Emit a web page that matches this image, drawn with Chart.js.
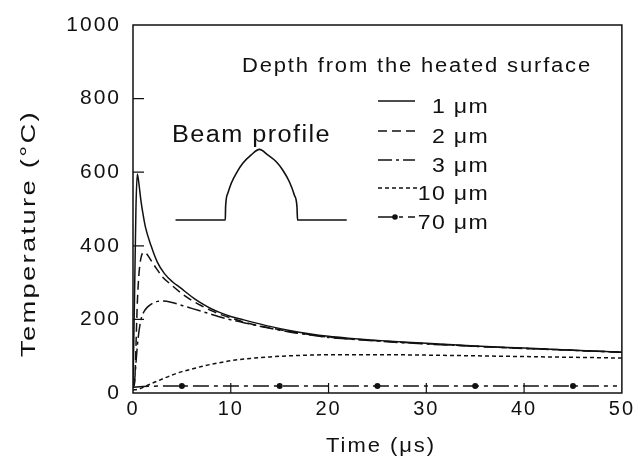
<!DOCTYPE html>
<html><head><meta charset="utf-8">
<script src="https://cdn.jsdelivr.net/npm/chart.js@4"></script>
<style>html,body{margin:0;padding:0;background:#fff}</style>
</head><body>
<canvas id="c" width="637" height="461" style="width:637px;height:461px;display:block"></canvas>
<script>
// ---- data (time in µs, temperature in °C) ----
const depthLabels = ['1 μm', '2 μm', '3 μm', '10 μm', '70 μm'];

const time1 = [0, 0.15, 0.3, 0.44, 0.6, 0.8, 1.0, 1.26, 1.85, 2.5, 3.2, 4, 5, 5.45, 6.3, 7.2, 8, 8.85, 10, 11, 12, 14, 16, 18, 20, 22, 25, 28, 30, 35, 40, 45, 50];
const temp1 = [20, 250, 500, 595, 570, 525, 490, 452, 400, 355, 325, 303, 283, 273, 256, 241, 229, 219, 208, 201, 194, 181, 170, 161, 154, 149, 143, 138, 135, 128, 122, 116, 111];

const time2 = [0, 0.15, 0.25, 0.35, 0.45, 0.6, 0.8, 1.07, 1.4, 1.8, 2.4, 3, 4, 5, 6, 7, 8, 9, 10, 12, 14, 16, 18, 20, 25, 30, 35, 40, 45, 50];
const temp2 = [15, 25, 80, 170, 250, 320, 365, 382, 378, 362, 338, 316, 292, 270, 252, 237, 224, 213, 204, 188, 177, 167, 159, 152, 142, 134, 127, 121, 116, 111];

const time3 = [0, 0.15, 0.3, 0.45, 0.6, 0.8, 1.1, 1.5, 2, 2.5, 3.1, 4, 5, 6, 7, 8, 9, 10, 12, 14, 16, 18, 20, 22, 25, 30, 35, 40, 45, 50];
const temp3 = [15, 30, 80, 130, 165, 198, 220, 234, 244, 249, 250, 246, 238, 230, 222, 214, 206, 199, 187, 176, 166, 158, 151, 147, 141, 133, 127, 121, 116, 111];

const time10 = [0, 0.5, 1, 2, 3, 4, 5, 6, 7, 8, 9, 10, 12, 14, 16, 18, 20, 25, 30, 35, 40, 45, 50];
const temp10 = [8, 10, 15, 27, 38, 49, 58, 65, 72, 78, 83, 88, 94, 98, 101, 103, 104, 104, 103, 101, 99, 97, 95];

const time70 = [0, 1, 5, 15, 25, 35, 45, 49.5];
const temp70 = [15, 18, 19, 19, 19, 19, 19, 19];
const markerTimes70 = [5, 15, 25, 35, 45];

// inset sketch of the beam profile (drawn in data coordinates)
const beamX = [4.35, 9.44, 9.47, 9.70, 10.05, 10.56, 11.23, 12.09, 12.93, 13.78, 14.63, 15.31, 15.99, 16.50, 16.77, 16.83, 21.86];
const beamY = [470, 470, 506, 543, 570, 597, 624, 647, 662, 647, 629, 606, 574, 538, 506, 470, 470];

const xTicksInner = [10, 20, 30, 40];
const yTicksInner = [200, 400, 600, 800];

const FONT = "'Liberation Sans', Arial, sans-serif";
const INK = '#111';

function pts(xs, ys) { return xs.map((x, i) => ({ x, y: ys[i] })); }

const dashes = [[], [9, 5], [14, 4, 3, 4], [4, 3], [16, 5, 4, 5]];
const series = [[time1, temp1], [time2, temp2], [time3, temp3], [time10, temp10], [time70, temp70]];

const datasets = series.map((s, i) => ({
  label: depthLabels[i],
  data: pts(s[0], s[1]),
  borderColor: INK,
  backgroundColor: INK,
  borderWidth: 1.5,
  borderDash: dashes[i],
  cubicInterpolationMode: 'monotone',
  fill: false,
  pointRadius: i === 4 ? (ctx => (ctx.raw && markerTimes70.includes(ctx.raw.x)) ? 3 : 0) : 0,
  pointBorderWidth: 0,
  pointBackgroundColor: INK
}));
datasets.push({
  label: 'Beam profile',
  data: pts(beamX, beamY),
  borderColor: INK,
  borderWidth: 1.6,
  cubicInterpolationMode: 'monotone',
  pointRadius: 0,
  fill: false
});

// draw text so that it spans `width` px, using a horizontal stretch plus letter spacing
function fitText(ctx, text, x, y, width, stretch) {
  ctx.save();
  ctx.letterSpacing = '0px';
  const w = ctx.measureText(text).width;
  const sp = Math.max(0, (width / stretch - w) / text.length);
  ctx.translate(x, y);
  ctx.scale(stretch, 1);
  ctx.letterSpacing = sp + 'px';
  ctx.textAlign = 'left';
  ctx.fillText(text, 0, 0);
  ctx.restore();
}

const annot = {
  id: 'annot',
  beforeDraw(chart) { chart.ctx.letterSpacing = '2px'; },        // y tick labels (z = 0)
  afterDatasetsDraw(chart) { chart.ctx.letterSpacing = '0.5px'; }, // x tick labels (z = 1)
  afterDraw(chart) {
    const ctx = chart.ctx;
    const a = chart.chartArea;
    const xs = chart.scales.x, ys = chart.scales.y;
    ctx.save();
    ctx.letterSpacing = '0px';
    ctx.strokeStyle = INK;
    ctx.fillStyle = INK;
    ctx.setLineDash([]);
    // frame
    ctx.lineWidth = 1.5;
    ctx.strokeRect(a.left, a.top, a.right - a.left, a.bottom - a.top);
    // inward ticks
    ctx.lineWidth = 1.2;
    ctx.beginPath();
    xTicksInner.forEach(v => { const p = xs.getPixelForValue(v); ctx.moveTo(p, a.bottom); ctx.lineTo(p, a.bottom - 10); });
    yTicksInner.forEach(v => { const p = ys.getPixelForValue(v); ctx.moveTo(a.left, p); ctx.lineTo(a.left + 11, p); });
    ctx.stroke();

    ctx.textBaseline = 'alphabetic';
    // x title
    ctx.font = '20px ' + FONT;
    fitText(ctx, 'Time (μs)', 326, 452, 110, 1.1);
    // y title
    ctx.save();
    ctx.translate(35, 357);
    ctx.rotate(-Math.PI / 2);
    ctx.font = '21px ' + FONT;
    fitText(ctx, 'Temperature (°C)', 0, 0, 247, 1.3);
    ctx.restore();

    // legend heading
    ctx.font = '20px ' + FONT;
    fitText(ctx, 'Depth from the heated surface', 242, 72, 350, 1.1);
    // beam profile label
    ctx.font = '23px ' + FONT;
    fitText(ctx, 'Beam profile', 172, 142, 159, 1.1);

    // legend entries
    const base = [113, 143, 172, 200, 229];
    ctx.font = '21px ' + FONT;
    for (let i = 0; i < 5; i++) {
      const ds = chart.data.datasets[i];
      const yl = base[i] - 12;
      ctx.setLineDash(ds.borderDash);
      ctx.lineWidth = 1.5;
      ctx.beginPath();
      ctx.moveTo(378, yl);
      ctx.lineTo(i === 3 ? 420 : 415, yl);
      ctx.stroke();
      ctx.setLineDash([]);
      if (i === 4) { ctx.beginPath(); ctx.arc(395, yl, 2.8, 0, Math.PI * 2); ctx.fill(); }
      ctx.letterSpacing = '1.2px';
      const w = ctx.measureText(depthLabels[i]).width * 1.1;
      ctx.save();
      ctx.translate(489 - w, base[i]);
      ctx.scale(1.1, 1);
      ctx.textAlign = 'left';
      ctx.fillText(depthLabels[i], 0, 0);
      ctx.restore();
      ctx.letterSpacing = '0px';
    }
    ctx.restore();
  }
};

new Chart(document.getElementById('c'), {
  type: 'line',
  data: { datasets },
  options: {
    responsive: false,
    animation: false,
    devicePixelRatio: 1,
    layout: { padding: { top: 25, right: 13, left: 0, bottom: 0 } },
    plugins: { legend: { display: false }, tooltip: { enabled: false } },
    scales: {
      x: {
        type: 'linear', min: 0, max: 50, z: 1,
        ticks: { stepSize: 10, padding: 4, color: INK, font: { family: FONT, size: 20 }, callback: v => String(v) },
        grid: { display: false, drawTicks: false },
        border: { display: false },
        afterFit: s => { s.height = 68; }
      },
      y: {
        type: 'linear', min: 0, max: 1000,
        ticks: { stepSize: 200, padding: 12, color: INK, font: { family: FONT, size: 21 }, callback: v => String(v) },
        grid: { display: false, drawTicks: false },
        border: { display: false },
        afterFit: s => { s.width = 133; }
      }
    }
  },
  plugins: [annot]
});
</script>
</body></html>
